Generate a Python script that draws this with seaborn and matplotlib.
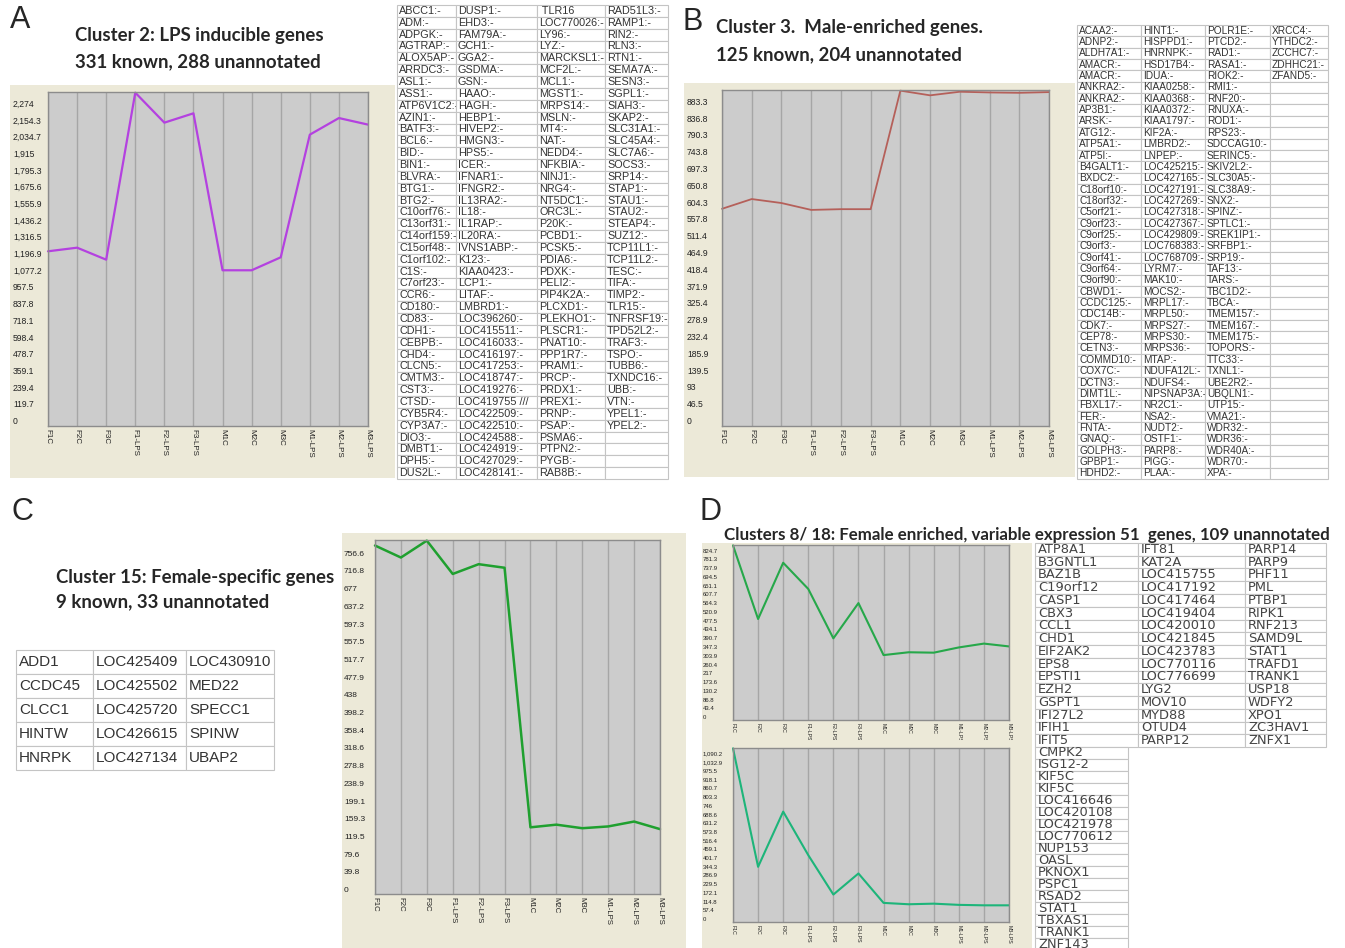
import matplotlib
matplotlib.use("Agg")
import matplotlib.pyplot as plt
import pandas as pd
import seaborn as sns

W, H = 1345, 948
BEIGE = "#ece9d8"
PLOT_GRAY = "#cccccc"
LBL = ["Liberation Sans Narrow", "Liberation Sans"]
TITLE = ["Lato", "DejaVu Sans"]

# samples on the x axis of every chart
samples = ["F1C", "F2C", "F3C", "F1-LPS", "F2-LPS", "F3-LPS",
           "M1C", "M2C", "M3C", "M1-LPS", "M2-LPS", "M3-LPS"]

# expression profiles
cluster2 = [1252, 1278, 1192, 2389, 2174, 2241, 1116, 1116, 1209, 2088, 2207, 2160]
cluster3 = [601, 628, 617, 598, 600, 600, 928, 915, 925, 923, 922, 924]
cluster15 = [784, 757, 795, 720, 742, 734, 150, 156, 148, 152, 163, 146]
cluster8 = [866, 501, 780, 650, 405, 580, 322, 336, 334, 360, 379, 365]
cluster18 = [1145, 364, 728, 441, 181, 320, 126, 117, 121, 113, 110, 110]

# y tick labels as printed
ticks_a = ["0", "119.7", "239.4", "359.1", "478.7", "598.4", "718.1", "837.8", "957.5",
           "1,077.2", "1,196.9", "1,316.5", "1,436.2", "1,555.9", "1,675.6", "1,795.3",
           "1,915", "2,034.7", "2,154.3", "2,274"]
ticks_b = ["0", "46.5", "93", "139.5", "185.9", "232.4", "278.9", "325.4", "371.9", "418.4",
           "464.9", "511.4", "557.8", "604.3", "650.8", "697.3", "743.8", "790.3", "836.8", "883.3"]
ticks_c = ["0", "39.8", "79.6", "119.5", "159.3", "199.1", "238.9", "278.8", "318.6", "358.4",
           "398.2", "438", "477.9", "517.7", "557.5", "597.3", "637.2", "677", "716.8", "756.6"]
ticks_d1 = ["0", "43.4", "86.8", "130.2", "173.6", "217", "260.4", "303.9", "347.3", "390.7",
            "434.1", "477.5", "520.9", "564.3", "607.7", "651.1", "694.5", "737.9", "781.3", "824.7"]
ticks_d2 = ["0", "57.4", "114.8", "172.1", "229.5", "286.9", "344.3", "401.7", "459.1", "516.4",
            "573.8", "631.2", "688.6", "746", "803.3", "860.7", "918.1", "975.5", "1,032.9", "1,090.2"]

# gene tables
genes_a = [
    ["ABCC1:-", "ADM:-", "ADPGK:-", "AGTRAP:-", "ALOX5AP:-", "ARRDC3:-", "ASL1:-", "ASS1:-",
     "ATP6V1C2:-", "AZIN1:-", "BATF3:-", "BCL6:-", "BID:-", "BIN1:-", "BLVRA:-", "BTG1:-",
     "BTG2:-", "C10orf76:-", "C13orf31:-", "C14orf159:-", "C15orf48:-", "C1orf102:-", "C1S:-",
     "C7orf23:-", "CCR6:-", "CD180:-", "CD83:-", "CDH1:-", "CEBPB:-", "CHD4:-", "CLCN5:-",
     "CMTM3:-", "CST3:-", "CTSD:-", "CYB5R4:-", "CYP3A7:-", "DIO3:-", "DMBT1:-", "DPH5:-", "DUS2L:-"],
    ["DUSP1:-", "EHD3:-", "FAM79A:-", "GCH1:-", "GGA2:-", "GSDMA:-", "GSN:-", "HAAO:-", "HAGH:-",
     "HEBP1:-", "HIVEP2:-", "HMGN3:-", "HPS5:-", "ICER:-", "IFNAR1:-", "IFNGR2:-", "IL13RA2:-",
     "IL18:-", "IL1RAP:-", "IL20RA:-", "IVNS1ABP:-", "K123:-", "KIAA0423:-", "LCP1:-", "LITAF:-",
     "LMBRD1:-", "LOC396260:-", "LOC415511:-", "LOC416033:-", "LOC416197:-", "LOC417253:-",
     "LOC418747:-", "LOC419276:-", "LOC419755 ///", "LOC422509:-", "LOC422510:-", "LOC424588:-",
     "LOC424919:-", "LOC427029:-", "LOC428141:-"],
    [" TLR16", "LOC770026:-", "LY96:-", "LYZ:-", "MARCKSL1:-", "MCF2L:-", "MCL1:-", "MGST1:-",
     "MRPS14:-", "MSLN:-", "MT4:-", "NAT:-", "NEDD4:-", "NFKBIA:-", "NINJ1:-", "NRG4:-",
     "NT5DC1:-", "ORC3L:-", "P20K:-", "PCBD1:-", "PCSK5:-", "PDIA6:-", "PDXK:-", "PELI2:-",
     "PIP4K2A:-", "PLCXD1:-", "PLEKHO1:-", "PLSCR1:-", "PNAT10:-", "PPP1R7:-", "PRAM1:-",
     "PRCP:-", "PRDX1:-", "PREX1:-", "PRNP:-", "PSAP:-", "PSMA6:-", "PTPN2:-", "PYGB:-", "RAB8B:-"],
    ["RAD51L3:-", "RAMP1:-", "RIN2:-", "RLN3:-", "RTN1:-", "SEMA7A:-", "SESN3:-", "SGPL1:-",
     "SIAH3:-", "SKAP2:-", "SLC31A1:-", "SLC45A4:-", "SLC7A6:-", "SOCS3:-", "SRP14:-", "STAP1:-",
     "STAU1:-", "STAU2:-", "STEAP4:-", "SUZ12:-", "TCP11L1:-", "TCP11L2:-", "TESC:-", "TIFA:-",
     "TIMP2:-", "TLR15:-", "TNFRSF19:-", "TPD52L2:-", "TRAF3:-", "TSPO:-", "TUBB6:-", "TXNDC16:-",
     "UBB:-", "VTN:-", "YPEL1:-", "YPEL2:-"],
]
genes_b = [
    ["ACAA2:-", "ADNP2:-", "ALDH7A1:-", "AMACR:-", "AMACR:-", "ANKRA2:-", "ANKRA2:-", "AP3B1:-",
     "ARSK:-", "ATG12:-", "ATP5A1:-", "ATP5I:-", "B4GALT1:-", "BXDC2:-", "C18orf10:-",
     "C18orf32:-", "C5orf21:-", "C9orf23:-", "C9orf25:-", "C9orf3:-", "C9orf41:-", "C9orf64:-",
     "C9orf90:-", "CBWD1:-", "CCDC125:-", "CDC14B:-", "CDK7:-", "CEP78:-", "CETN3:-",
     "COMMD10:-", "COX7C:-", "DCTN3:-", "DIMT1L:-", "FBXL17:-", "FER:-", "FNTA:-", "GNAQ:-",
     "GOLPH3:-", "GPBP1:-", "HDHD2:-"],
    ["HINT1:-", "HISPPD1:-", "HNRNPK:-", "HSD17B4:-", "IDUA:-", "KIAA0258:-", "KIAA0368:-",
     "KIAA0372:-", "KIAA1797:-", "KIF2A:-", "LMBRD2:-", "LNPEP:-", "LOC425215:-", "LOC427165:-",
     "LOC427191:-", "LOC427269:-", "LOC427318:-", "LOC427367:-", "LOC429809:-", "LOC768383:-",
     "LOC768709:-", "LYRM7:-", "MAK10:-", "MOCS2:-", "MRPL17:-", "MRPL50:-", "MRPS27:-",
     "MRPS30:-", "MRPS36:-", "MTAP:-", "NDUFA12L:-", "NDUFS4:-", "NIPSNAP3A:-", "NR2C1:-",
     "NSA2:-", "NUDT2:-", "OSTF1:-", "PARP8:-", "PIGG:-", "PLAA:-"],
    ["POLR1E:-", "PTCD2:-", "RAD1:-", "RASA1:-", "RIOK2:-", "RMI1:-", "RNF20:-", "RNUXA:-",
     "ROD1:-", "RPS23:-", "SDCCAG10:-", "SERINC5:-", "SKIV2L2:-", "SLC30A5:-", "SLC38A9:-",
     "SNX2:-", "SPINZ:-", "SPTLC1:-", "SREK1IP1:-", "SRFBP1:-", "SRP19:-", "TAF13:-", "TARS:-",
     "TBC1D2:-", "TBCA:-", "TMEM157:-", "TMEM167:-", "TMEM175:-", "TOPORS:-", "TTC33:-",
     "TXNL1:-", "UBE2R2:-", "UBQLN1:-", "UTP15:-", "VMA21:-", "WDR32:-", "WDR36:-", "WDR40A:-",
     "WDR70:-", "XPA:-"],
    ["XRCC4:-", "YTHDC2:-", "ZCCHC7:-", "ZDHHC21:-", "ZFAND5:-"],
]
genes_c = [
    ["ADD1", "CCDC45", "CLCC1", "HINTW", "HNRPK"],
    ["LOC425409", "LOC425502", "LOC425720", "LOC426615", "LOC427134"],
    ["LOC430910", "MED22", "SPECC1", "SPINW", "UBAP2"],
]
genes_d1 = [
    ["ATP8A1", "B3GNTL1", "BAZ1B", "C19orf12", "CASP1", "CBX3", "CCL1", "CHD1", "EIF2AK2",
     "EPS8", "EPSTI1", "EZH2", "GSPT1", "IFI27L2", "IFIH1", "IFIT5"],
    ["IFT81", "KAT2A", "LOC415755", "LOC417192", "LOC417464", "LOC419404", "LOC420010",
     "LOC421845", "LOC423783", "LOC770116", "LOC776699", "LYG2", "MOV10", "MYD88", "OTUD4", "PARP12"],
    ["PARP14", "PARP9", "PHF11", "PML", "PTBP1", "RIPK1", "RNF213", "SAMD9L", "STAT1", "TRAFD1",
     "TRANK1", "USP18", "WDFY2", "XPO1", "ZC3HAV1", "ZNFX1"],
]
genes_d2 = [
    ["CMPK2", "ISG12-2", "KIF5C", "KIF5C", "LOC416646", "LOC420108", "LOC421978", "LOC770612",
     "NUP153", "OASL", "PKNOX1", "PSPC1", "RSAD2", "STAT1", "TBXAS1", "TRANK1", "ZNF143"],
]

sns.set_style("white")
plt.rcParams["font.family"] = ["Liberation Sans", "DejaVu Sans"]

fig = plt.figure(figsize=(W / 100, H / 100), dpi=100)
fig.patch.set_facecolor("white")


def rect(x0, y0, x1, y1):
    # pixel box (top-left origin) -> figure fraction
    return [x0 / W, 1 - y1 / H, (x1 - x0) / W, (y1 - y0) / H]


def draw_chart(bg_box, plot_box, label_x, values, ticks, color, lw, yfs, xfs):
    bg = fig.add_axes(rect(*bg_box))
    bg.set_facecolor(BEIGE)
    bg.set_xticks([])
    bg.set_yticks([])
    for s in bg.spines.values():
        s.set_visible(False)

    ax = fig.add_axes(rect(*plot_box))
    ax.set_facecolor(PLOT_GRAY)
    df = pd.DataFrame({"sample": samples, "value": values})
    sns.lineplot(data=df, x="sample", y="value", ax=ax, color=color, lw=lw, sort=False)
    for ln in ax.lines:
        ln.set_clip_on(False)

    pos = [float(t.replace(",", "")) for t in ticks]
    ax.set_xlim(0, len(samples) - 1)
    ax.set_ylim(0, pos[-1] * 20 / 19)
    ax.set_yticks(pos)
    ax.set_yticklabels(ticks, ha="left", va="bottom", fontsize=yfs, family=LBL, color="#222222")
    pad = (plot_box[0] - label_x) * 0.72 - 2
    ax.tick_params(axis="y", length=2, width=0.6, pad=pad, color="#555555")
    ax.set_xticks(range(len(samples)))
    ax.set_xticklabels(samples, rotation=-90, fontsize=xfs, family=LBL, va="top", ha="center", color="#222222")
    ax.tick_params(axis="x", length=0, pad=2)
    ax.grid(axis="x", color="#a6a6a6", lw=1)
    ax.grid(axis="y", visible=False)
    ax.set_axisbelow(True)
    ax.set_xlabel("")
    ax.set_ylabel("")
    for s in ax.spines.values():
        s.set_color("#8c8c8c")
        s.set_linewidth(1)
    return ax


def draw_table(bounds, y0, y1, columns, fontsize, family, pad_px, color="#333333"):
    ax = fig.add_axes(rect(bounds[0], y0, bounds[-1], y1))
    ax.axis("off")
    nrows = max(len(c) for c in columns)
    cells = [[c[r] if r < len(c) else "" for c in columns] for r in range(nrows)]
    widths = [b1 - b0 for b0, b1 in zip(bounds[:-1], bounds[1:])]
    total = sum(widths)
    tb = ax.table(cellText=cells, colWidths=[w / total for w in widths],
                  cellLoc="left", bbox=[0, 0, 1, 1])
    tb.auto_set_font_size(False)
    tb.set_fontsize(fontsize)
    for (r, c), cell in tb.get_celld().items():
        cell.set_edgecolor("#c4c4c4")
        cell.set_linewidth(0.8)
        cell.PAD = pad_px / widths[c]
        cell.get_text().set_fontfamily(family)
        cell.get_text().set_color(color)
    return ax


# panel A
draw_chart((10, 85, 395, 478), (48, 92, 368, 426), 13, cluster2, ticks_a, "#b441e0", 1.6, 6.2, 5.8)
draw_table([397, 456, 537, 605, 668], 5, 479, genes_a, 7.8, "Liberation Sans", 2)

# panel B
draw_chart((684, 83, 1075, 477), (722, 90, 1049, 426), 687, cluster3, ticks_b, "#b5605a", 1.3, 6.2, 5.8)
draw_table([1077, 1141, 1205, 1270, 1328], 25, 479, genes_b, 7.3, "Liberation Sans", 2)

# panel C
draw_table([16, 93, 186, 274], 650, 770, genes_c, 11, "Liberation Sans", 3)
draw_chart((342, 533, 686, 948), (375, 540, 660, 894), 344, cluster15, ticks_c, "#1fa02f", 1.8, 6.0, 5.6)

# panel D
draw_chart((702, 543, 1032, 740), (733, 545, 1009, 720), 703, cluster8, ticks_d1, "#26a84a", 1.5, 4.3, 3.8)
draw_chart((702, 740, 1032, 948), (733, 748, 1009, 922), 703, cluster18, ticks_d2, "#1db57a", 1.5, 4.3, 3.8)
draw_table([1035, 1138, 1245, 1326], 543, 747, genes_d1, 9.4, "DejaVu Sans", 3, "#444444")
draw_table([1035, 1128], 747, 950, genes_d2, 9.4, "DejaVu Sans", 3, "#444444")

# panel letters and headings
for letter, x, y in [("A", 20, 20), ("B", 693, 22), ("C", 22, 512), ("D", 710, 512)]:
    fig.text(x / W, 1 - y / H, letter, fontsize=22, ha="center", va="center")

headings = [
    (75, 35, "Cluster 2: LPS inducible genes", 13.4),
    (75, 62, "331 known, 288 unannotated", 13.4),
    (716, 27, "Cluster 3.  Male-enriched genes.", 13.4),
    (716, 55, "125 known, 204 unannotated", 13.4),
    (56, 578, "Cluster 15: Female-specific genes", 13.4),
    (56, 602, "9 known, 33 unannotated", 13.4),
    (724, 535, "Clusters 8/ 18: Female enriched, variable expression 51  genes, 109 unannotated", 12.2),
]
for x, y, txt, fs in headings:
    fig.text(x / W, 1 - y / H, txt, fontsize=fs, fontweight="bold", family=TITLE,
             ha="left", va="center")

fig.savefig("out.png", dpi=100)
